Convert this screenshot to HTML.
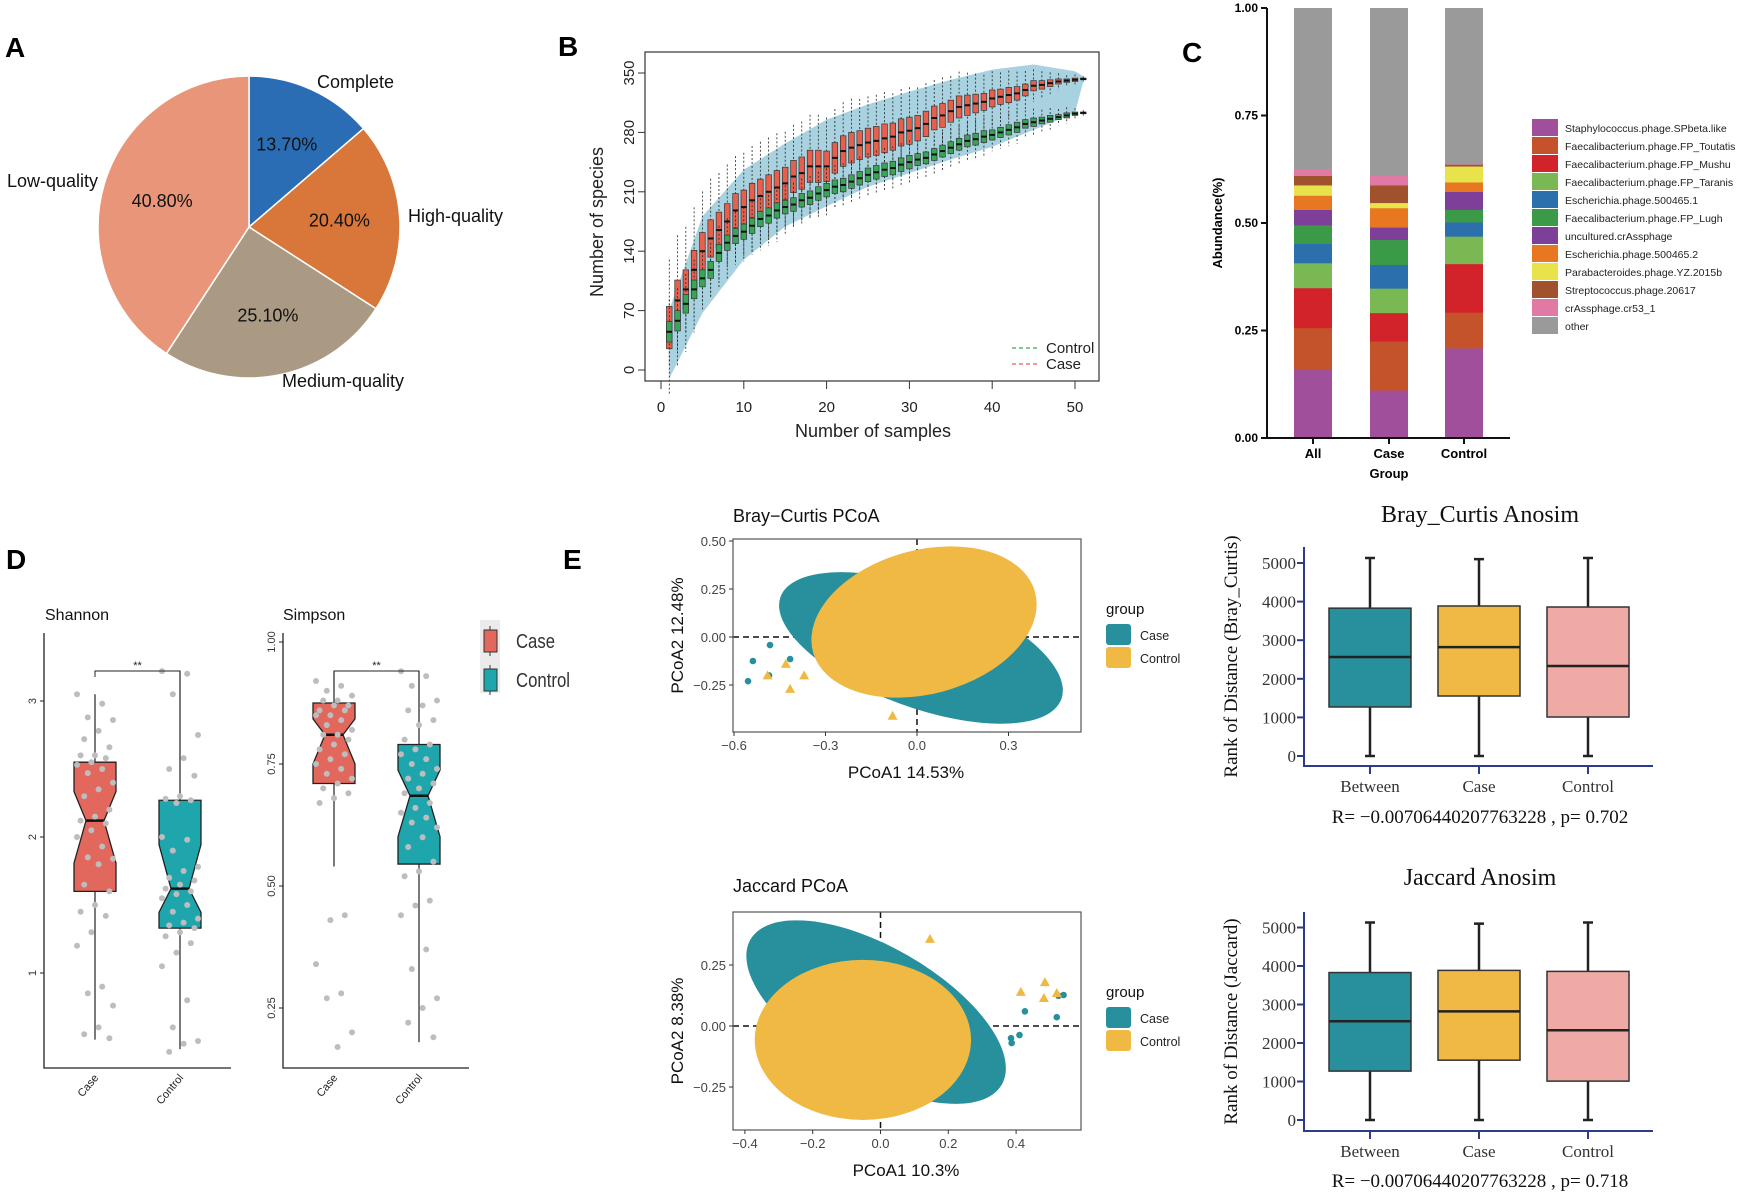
<!DOCTYPE html>
<html><head><meta charset="utf-8"><style>
html,body{margin:0;padding:0;background:#fff;}
svg{display:block;font-family:"Liberation Sans",sans-serif;}
.serif{font-family:"Liberation Serif",serif;}
</style></head><body>
<svg id="fig" xmlns="http://www.w3.org/2000/svg" width="1755" height="1198" viewBox="0 0 1755 1198">
<rect width="1755" height="1198" fill="#fff"/>
<g font-weight="bold" font-size="28">
<text x="5" y="57">A</text>
<text x="558" y="56">B</text>
<text x="1182" y="62">C</text>
<text x="6" y="569">D</text>
<text x="563" y="569">E</text>
</g>
<g id="pie"></g>
<g id="rare"></g>
<g id="stack"></g>
<g id="alpha"></g>
<g id="pcoa"></g>
<g id="anosim"></g>
</svg>
<script>
// ---------- data ----------
const pieLabels=["Complete","High-quality","Medium-quality","Low-quality"];
const pieValues=[13.7,20.4,25.1,40.8];
const pieText=["13.70%","20.40%","25.10%","40.80%"];

const rareSamples=[1,2,3,4,5,6,7,8,9,10,11,12,13,14,15,16,17,18,19,20,21,22,23,24,25,26,27,28,29,30,31,32,33,34,35,36,37,38,39,40,41,42,43,44,45,46,47,48,49,50,51];
const caseMedian=[50,82,95,118,140,155,165,175,188,192,200,205,210,215,220,228,232,240,240,240,250,258,262,265,268,270,273,275,280,282,285,290,297,300,305,310,312,314,316,320,322,324,326,330,335,336,338,340,341,342,343];
const caseHalf=[25,24,23,23,22,22,21,21,20,20,20,20,20,20,19,19,19,19,19,18,18,18,18,17,17,17,17,16,16,16,15,15,14,14,13,13,12,11,10,10,9,9,8,7,6,5,4,3,2,2,1];
const ctrlMedian=[45,58,78,95,108,118,138,150,158,163,170,178,182,188,192,195,200,203,208,212,216,218,222,226,230,233,236,238,242,245,248,250,254,258,262,266,270,272,275,277,280,283,286,290,292,294,296,298,300,302,303];
const ctrlHalf=[12,12,11,11,10,10,10,9,9,9,9,9,9,9,8,8,8,8,8,8,8,8,8,8,8,8,8,8,8,8,7,7,7,7,7,7,7,7,7,6,6,6,6,5,5,4,4,3,3,2,1];
const bandX=[1,5,10,15,20,25,30,35,40,45,50,51];
const bandUpper=[71,181,236,267,295,313,328,342,354,360,352,346];
const bandLower=[-10,67,130,169,193,216,232,248,263,283,303,340];
const rareYTicks=[0,70,140,210,280,350];
const rareXTicks=[0,10,20,30,40,50];

const stackGroups=["All","Case","Control"];
const stackTaxa=["Staphylococcus.phage.SPbeta.like","Faecalibacterium.phage.FP_Toutatis","Faecalibacterium.phage.FP_Mushu","Faecalibacterium.phage.FP_Taranis","Escherichia.phage.500465.1","Faecalibacterium.phage.FP_Lugh","uncultured.crAssphage","Escherichia.phage.500465.2","Parabacteroides.phage.YZ.2015b","Streptococcus.phage.20617","crAssphage.cr53_1","other"];
const stackAll=[0.160,0.096,0.093,0.058,0.045,0.043,0.036,0.033,0.024,0.022,0.016,0.374];
const stackCase=[0.111,0.114,0.066,0.057,0.055,0.058,0.029,0.045,0.012,0.041,0.022,0.390];
const stackControl=[0.209,0.083,0.113,0.064,0.033,0.029,0.042,0.022,0.037,0.004,0.001,0.363];
const stackYTicks=["0.00","0.25","0.50","0.75","1.00"];

const shannonBox={Case:[0.51,1.60,2.12,2.55,3.05],Control:[0.44,1.33,1.62,2.27,3.22]};
const simpsonBox={Case:[0.54,0.71,0.81,0.875,0.94],Control:[0.18,0.545,0.685,0.79,0.94]};
const shannonCasePts=[3.05,2.98,2.88,2.86,2.78,2.72,2.66,2.6,2.6,2.58,2.55,2.53,2.5,2.47,2.4,2.35,2.3,2.2,2.15,2.12,2.1,2.05,2.0,1.93,1.85,1.84,1.8,1.65,1.6,1.5,1.45,1.42,1.3,1.2,0.9,0.85,0.76,0.6,0.55,0.52];
const shannonCtrlPts=[3.22,3.2,3.05,2.75,2.58,2.5,2.45,2.3,2.28,2.27,2.25,2.0,1.98,1.9,1.78,1.75,1.7,1.68,1.65,1.62,1.6,1.58,1.55,1.5,1.45,1.4,1.37,1.35,1.33,1.3,1.27,1.22,1.15,1.05,0.8,0.6,0.5,0.48,0.42];
const simpsonCasePts=[0.92,0.91,0.9,0.89,0.88,0.88,0.87,0.87,0.86,0.86,0.85,0.85,0.84,0.83,0.82,0.81,0.81,0.8,0.79,0.78,0.77,0.76,0.75,0.74,0.73,0.72,0.71,0.7,0.69,0.68,0.67,0.44,0.43,0.34,0.28,0.27,0.2,0.17];
const simpsonCtrlPts=[0.94,0.93,0.91,0.88,0.87,0.86,0.84,0.83,0.8,0.79,0.78,0.77,0.76,0.75,0.74,0.73,0.72,0.71,0.7,0.69,0.67,0.66,0.65,0.64,0.63,0.62,0.6,0.58,0.55,0.53,0.52,0.47,0.46,0.44,0.37,0.33,0.27,0.25,0.22,0.19];

const bcEllCase=[0.013,-0.057,0.49,0.31,20];
const bcEllCtrl=[0.023,0.078,0.377,0.375,-15];
const bcCasePts=[[-0.554,-0.23],[-0.538,-0.125],[-0.482,-0.042],[-0.416,-0.115],[-0.485,-0.2]];
const bcCtrlPts=[[-0.43,-0.14],[-0.49,-0.2],[-0.37,-0.2],[-0.416,-0.27],[-0.08,-0.41]];
const bcXTicks=[-0.6,-0.3,0.0,0.3];
const bcYTicks=[0.5,0.25,0,-0.25];
const jcEllCase=[-0.013,0.057,0.428,0.266,30];
const jcEllCtrl=[-0.052,-0.057,0.319,0.328,0];
const jcCasePts=[[0.426,0.06],[0.52,0.036],[0.41,-0.037],[0.385,-0.05],[0.387,-0.07],[0.54,0.127],[0.525,0.124]];
const jcCtrlPts=[[0.146,0.357],[0.414,0.14],[0.485,0.18],[0.482,0.115],[0.52,0.135]];
const jcXTicks=[-0.4,-0.2,0.0,0.2,0.4];
const jcYTicks=[0.25,0,-0.25];

const anoCats=["Between","Case","Control"];
const bcAnosim=[[0,1270,2565,3830,5130],[0,1554,2820,3886,5100],[0,1010,2330,3860,5130]];
const jcAnosim=[[0,1270,2565,3830,5130],[0,1554,2820,3886,5100],[0,1010,2330,3860,5130]];
const anoYTicks=[0,1000,2000,3000,4000,5000];

// ---------- helpers ----------
const NS="http://www.w3.org/2000/svg";
function mk(tag,attrs,parent){const e=document.createElementNS(NS,tag);for(const k in attrs)e.setAttribute(k,attrs[k]);parent.appendChild(e);return e;}
function txt(s,attrs,parent){const e=mk("text",attrs,parent);e.textContent=s;return e;}

// ---------- A pie ----------
(function(){
const g=document.getElementById("pie");
const cx=249,cy=227,r=151;
const cols=["#2a6db5","#d9763a","#ab9a83","#e8957a"];
const tot=pieValues.reduce((a,b)=>a+b,0);
let a0=0;
const lblPos=[[317,88,"start"],[408,222,"start"],[282,387,"start"],[7,187,"start"]];
pieValues.forEach((v,i)=>{
 const a1=a0+v/tot*2*Math.PI;
 const x0=cx+r*Math.sin(a0),y0=cy-r*Math.cos(a0),x1=cx+r*Math.sin(a1),y1=cy-r*Math.cos(a1);
 const p=mk("path",{d:`M${cx},${cy}L${x0},${y0}A${r},${r} 0 ${a1-a0>Math.PI?1:0} 1 ${x1},${y1}Z`,fill:cols[i],stroke:"#fff","stroke-width":1.5},g);
 
 
 const am=(a0+a1)/2, rr=r*0.6;
 const t=txt(pieText[i],{x:cx+rr*Math.sin(am),y:cy-rr*Math.cos(am)+6,"text-anchor":"middle","font-size":18,fill:"#111"},g);
 
 
 const l=txt(pieLabels[i],{x:lblPos[i][0],y:lblPos[i][1],"font-size":18,fill:"#111"},g);
 
 
 a0=a1;
});
})();

// ---------- B rarefaction ----------
(function(){
const g=document.getElementById("rare");
const X=n=>661+(n)*(1075-661)/50, Y=v=>370-v*(370-73)/350;
const box=mk("rect",{x:645,y:52,width:454,height:329,fill:"none",stroke:"#333","stroke-width":1.2},g);


let d="M"+bandX.map((n,i)=>X(n)+","+Y(bandUpper[i])).join("L");
for(let i=bandX.length-1;i>=0;i--)d+="L"+X(bandX[i])+","+Y(bandLower[i]);
const band=mk("path",{d:d+"Z",fill:"#a8d2e0",stroke:"none"},g);


function series(med,half,fill,name){
 rareSamples.forEach((n,i)=>{
  const x=X(n),w=5.6;
  const hi=Math.min(med[i]+half[i]*3.2,360),lo=med[i]-half[i]*3.2;
  const wk=mk("line",{x1:x,x2:x,y1:Y(hi),y2:Y(lo),stroke:"#222","stroke-width":0.8,"stroke-dasharray":"2,2"},g);
  
  
  const b=mk("rect",{x:x-w/2,y:Y(med[i]+half[i]),width:w,height:Math.max(1,Y(med[i]-half[i])-Y(med[i]+half[i])),fill:fill,stroke:"#333","stroke-width":0.7},g);
  
  
  const m=mk("line",{x1:x-w/2,x2:x+w/2,y1:Y(med[i]),y2:Y(med[i]),stroke:"#111","stroke-width":2},g);
  
  
 });
}
series(caseMedian,caseHalf,"#e8604c","case");
series(ctrlMedian,ctrlHalf,"#3aa655","control");
rareYTicks.forEach(v=>{
 const l=mk("line",{x1:638,x2:645,y1:Y(v),y2:Y(v),stroke:"#333"},g);
 
 
 const t=txt(String(v),{x:0,y:0,transform:`translate(634,${Y(v)}) rotate(-90)`,"text-anchor":"middle","font-size":15,fill:"#222"},g);
 
 
});
rareXTicks.forEach(v=>{
 const l=mk("line",{x1:X(v),x2:X(v),y1:381,y2:389,stroke:"#333"},g);
 
 
 const t=txt(String(v),{x:X(v),y:412,"text-anchor":"middle","font-size":15,fill:"#222"},g);
 
 
});
const xl=txt("Number of samples",{x:873,y:437,"text-anchor":"middle","font-size":18,fill:"#222"},g);


const yl=txt("Number of species",{x:0,y:0,transform:"translate(603,222) rotate(-90)","text-anchor":"middle","font-size":18,fill:"#222"},g);


[["Control","#3aa655",348],["Case","#e8604c",364]].forEach(e=>{
 const l=mk("line",{x1:1012,x2:1037,y1:e[2],y2:e[2],stroke:e[1],"stroke-dasharray":"4,3","stroke-width":1.2},g);
 
 
 const t=txt(e[0],{x:1046,y:e[2]+5,"font-size":15,fill:"#222"},g);
 
 
});
})();

// ---------- C stacked ----------
(function(){
const g=document.getElementById("stack");
const cols=["#a0509a","#c4532c","#d2232a","#79b853","#2b6fad","#3a9a48","#7d3f98","#e87722","#e8e34a","#a0522d","#e07aa5","#9a9a9a"];
const Y=v=>438-v*430, xs=[1313,1389,1464];
[stackAll,stackCase,stackControl].forEach((arr,gi)=>{
 let acc=0;
 arr.forEach((v,i)=>{
  const r=mk("rect",{x:xs[gi]-19,y:Y(acc+v),width:38,height:Y(acc)-Y(acc+v)+0.3,fill:cols[i]},g);
  
  
  acc+=v;
 });
});
const ax=mk("path",{d:"M1267,8V438H1510",fill:"none",stroke:"#111","stroke-width":2},g);


stackYTicks.forEach(s=>{
 const v=parseFloat(s);
 const l=mk("line",{x1:1261,x2:1267,y1:Y(v),y2:Y(v),stroke:"#111","stroke-width":2},g);
 
 
 const t=txt(s,{x:1258,y:Y(v)+4,"text-anchor":"end","font-size":12,"font-weight":"bold"},g);
 
 
});
stackGroups.forEach((s,i)=>{
 const l=mk("line",{x1:xs[i],x2:xs[i],y1:438,y2:444,stroke:"#111","stroke-width":2},g);
 
 
 const t=txt(s,{x:xs[i],y:458,"text-anchor":"middle","font-size":13,"font-weight":"bold"},g);
 
 
});
const gx=txt("Group",{x:1389,y:478,"text-anchor":"middle","font-size":13,"font-weight":"bold"},g);


const gy=txt("Abundance(%)",{x:0,y:0,transform:"translate(1222,223) rotate(-90)","text-anchor":"middle","font-size":13,"font-weight":"bold"},g);


stackTaxa.forEach((s,i)=>{
 const r=mk("rect",{x:1532,y:119+i*18,width:26,height:17,fill:cols[i]},g);
 
 
 const t=txt(s,{x:1565,y:132+i*18,"font-size":10.5,fill:"#222"},g);
 
 
});
})();

// ---------- D alpha ----------
(function(){
const g=document.getElementById("alpha");
function panel(title,tx,axX,axEnd,zeroY,perUnit,ticks,tickFmt,boxes,ptsCase,ptsCtrl,cx){
 const Y=v=>zeroY-v*perUnit;
 const tt=txt(title,{x:tx,y:620,"font-size":16,fill:"#111"},g);
 
 
 const ax=mk("path",{d:`M${axX},633V1068H${axEnd}`,fill:"none",stroke:"#222","stroke-width":1.3},g);
 
 
 ticks.forEach(v=>{
  const l=mk("line",{x1:axX-4,x2:axX,y1:Y(v),y2:Y(v),stroke:"#222"},g);
  
  
  const t=txt(tickFmt(v),{x:0,y:0,transform:`translate(${axX-8},${Y(v)}) rotate(-90)`,"text-anchor":"middle","font-size":11,fill:"#333"},g);
  
  
 });
 const fills={Case:"#e2675c",Control:"#1fa6ad"};
 ["Case","Control"].forEach((k,i)=>{
  const [lo,q1,md,q3,hi]=boxes[k], x=cx[i], w=21, nw=9;
  const wl=mk("line",{x1:x,x2:x,y1:Y(hi),y2:Y(lo),stroke:"#222","stroke-width":1.2},g);
  
  
  const n1=md+(q3-md)*0.5, n2=md-(md-q1)*0.6;
  const p=mk("path",{d:`M${x-w},${Y(q3)}H${x+w}V${Y(n1)}L${x+nw},${Y(md)}L${x+w},${Y(n2)}V${Y(q1)}H${x-w}V${Y(n2)}L${x-nw},${Y(md)}L${x-w},${Y(n1)}Z`,fill:fills[k],stroke:"#222","stroke-width":1.3},g);
  
  
  const m=mk("line",{x1:x-nw,x2:x+nw,y1:Y(md),y2:Y(md),stroke:"#111","stroke-width":2.5},g);
  
  
  const l=txt(k,{x:0,y:0,transform:`translate(${x+4},${1078}) rotate(-50)`,"text-anchor":"end","font-size":11,fill:"#222"},g);
  
  
 });
 [[ptsCase,cx[0]],[ptsCtrl,cx[1]]].forEach(([pts,x])=>{
  pts.forEach((v,i)=>{
   const off=((i*7)%11-5)*3.6;
   const c=mk("circle",{cx:x+off,cy:Y(v),r:3,fill:"#bdbdbd"},g);
   
   
  });
 });
 const br=mk("path",{d:`M${cx[0]},677V671H${cx[1]}V677`,fill:"none",stroke:"#222","stroke-width":1},g);
 
 
 const st=txt("**",{x:(cx[0]+cx[1])/2,y:669,"text-anchor":"middle","font-size":11,fill:"#222"},g);
 
 
}
panel("Shannon",45,44,231,1109,136,[1,2,3],v=>String(v),shannonBox,shannonCasePts,shannonCtrlPts,[95,180]);
panel("Simpson",283,283,469,1130,488,[0.25,0.5,0.75,1.0],v=>v.toFixed(2),simpsonBox,simpsonCasePts,simpsonCtrlPts,[334,419]);
const lb=mk("rect",{x:480,y:620,width:20,height:73,fill:"#ebebeb"},g);


[["Case","#e2675c",630],["Control","#1fa6ad",669]].forEach(e=>{
 const v=mk("line",{x1:490,x2:490,y1:e[2]-4,y2:e[2]+26,stroke:"#333"},g);
 
 
 const r=mk("rect",{x:484,y:e[2],width:13,height:22,fill:e[1],stroke:"#333"},g);
 
 
 const t=txt(e[0],{x:516,y:e[2]+18,"font-size":20,fill:"#333",textLength:e[0]==="Case"?39:54,lengthAdjust:"spacingAndGlyphs"},g);
 
 
});
})();

// ---------- E PCoA ----------
(function(){
const g=document.getElementById("pcoa");
function panel(o){
 const X=v=>o.x0+v*o.xs, Y=v=>o.y0-v*o.ys;
 const tt=txt(o.title,{x:733,y:o.ty,"font-size":18,fill:"#111"},g);
 
 
 const cp="clip"+o.id;
 const cl=mk("clipPath",{id:cp},g);
 mk("rect",{x:733,y:o.top,width:348,height:o.bot-o.top},cl);
 const inner=mk("g",{"clip-path":`url(#${cp})`},g);
 const hl=mk("line",{x1:733,x2:1081,y1:Y(0),y2:Y(0),stroke:"#111","stroke-width":1.5,"stroke-dasharray":"6,4"},inner);
 
 
 const vl=mk("line",{x1:X(0),x2:X(0),y1:o.top,y2:o.bot,stroke:"#111","stroke-width":1.5,"stroke-dasharray":"6,4"},inner);
 
 
 [[o.eCase,"#28909c","case"],[o.eCtrl,"#f0b944","control"]].forEach(([e,c,n])=>{
  const el=mk("ellipse",{cx:X(e[0]),cy:Y(e[1]),rx:e[2]*o.xs,ry:e[3]*o.ys,transform:`rotate(${e[4]} ${X(e[0])} ${Y(e[1])})`,fill:c},inner);
  
  
 });
 o.pCase.forEach(p=>{
  const c=mk("circle",{cx:X(p[0]),cy:Y(p[1]),r:3.3,fill:"#28909c"},inner);
  
  
 });
 o.pCtrl.forEach(p=>{
  const x=X(p[0]),y=Y(p[1]);
  const c=mk("path",{d:`M${x},${y-5}L${x+5},${y+4}L${x-5},${y+4}Z`,fill:"#f0b944"},inner);
  
  
 });
 const fr=mk("rect",{x:733,y:o.top,width:348,height:o.bot-o.top,fill:"none",stroke:"#555","stroke-width":1.2},g);
 
 
 o.xt.forEach(v=>{
  const l=mk("line",{x1:X(v),x2:X(v),y1:o.bot,y2:o.bot+4,stroke:"#333"},g);
  
  
  const t=txt((v<0?"\u2212":"")+Math.abs(v).toFixed(1),{x:X(v),y:o.bot+18,"text-anchor":"middle","font-size":13,fill:"#444"},g);
  
  
 });
 o.yt.forEach(v=>{
  const l=mk("line",{x1:729,x2:733,y1:Y(v),y2:Y(v),stroke:"#333"},g);
  
  
  const t=txt((v<0?"\u2212":"")+Math.abs(v).toFixed(2),{x:726,y:Y(v)+5,"text-anchor":"end","font-size":13,fill:"#444"},g);
  
  
 });
 const xl=txt(o.xl,{x:906,y:o.bot+46,"text-anchor":"middle","font-size":17,fill:"#111"},g);
 
 
 const yl=txt(o.yl,{x:0,y:0,transform:`translate(683,${(o.top+o.bot)/2+ (o.id==="j"?10:0)}) rotate(-90)`,"text-anchor":"middle","font-size":17,fill:"#111"},g);
 
 
 const gt=txt("group",{x:1106,y:o.ly,"font-size":15,fill:"#111"},g);
 
 
 [["Case","#28909c",0],["Control","#f0b944",23]].forEach(e=>{
  const r=mk("rect",{x:1106,y:o.ly+10+e[2],width:25,height:21,rx:3,fill:e[1]},g);
  
  
  const t=txt(e[0],{x:1140,y:o.ly+26+e[2],"font-size":12.5,fill:"#222"},g);
  
  
 });
}
panel({id:"b",title:"Bray\u2212Curtis PCoA",ty:522,top:539,bot:732,x0:917,xs:305,y0:637,ys:192,eCase:bcEllCase,eCtrl:bcEllCtrl,pCase:bcCasePts,pCtrl:bcCtrlPts,xt:bcXTicks,yt:bcYTicks,xl:"PCoA1 14.53%",yl:"PCoA2 12.48%",ly:614});
panel({id:"j",title:"Jaccard PCoA",ty:892,top:912,bot:1130,x0:880.5,xs:339,y0:1026,ys:244,eCase:jcEllCase,eCtrl:jcEllCtrl,pCase:jcCasePts,pCtrl:jcCtrlPts,xt:jcXTicks,yt:jcYTicks,xl:"PCoA1 10.3%",yl:"PCoA2 8.38%",ly:997});
})();

// ---------- E Anosim ----------
(function(){
const g=document.getElementById("anosim");
function panel(o){
 const Y=v=>o.y0-v*o.per/1000, xs=[1370,1479,1588], cols=["#28909c","#f0b944","#efaaa6"];
 const tt=txt(o.title,{x:1480,y:o.ty,"text-anchor":"middle","font-size":24,fill:"#111","class":"serif"},g);
 
 
 o.vals.forEach((b,i)=>{
  const [lo,q1,md,q3,hi]=b,x=xs[i];
  const w=mk("line",{x1:x,x2:x,y1:Y(hi),y2:Y(lo),stroke:"#222","stroke-width":2.5},g);
  
  
  [hi,lo].forEach(v=>{
   const c=mk("line",{x1:x-5,x2:x+5,y1:Y(v),y2:Y(v),stroke:"#222","stroke-width":2.5},g);
   
   
  });
  const r=mk("rect",{x:x-41,y:Y(q3),width:82,height:Y(q1)-Y(q3),fill:cols[i],stroke:"#333","stroke-width":1.5},g);
  
  
  const m=mk("line",{x1:x-41,x2:x+41,y1:Y(md),y2:Y(md),stroke:"#222","stroke-width":2.5},g);
  
  
  const tk=mk("line",{x1:x,x2:x,y1:o.ax,y2:o.ax+8,stroke:"#2e3a8c","stroke-width":2},g);
  
  
  const t=txt(anoCats[i],{x:x,y:o.xly,"text-anchor":"middle","font-size":17,fill:"#333","class":"serif"},g);
  
  
 });
 const ax=mk("path",{d:`M1304,${o.top}V${o.ax}H1653`,fill:"none",stroke:"#2e3a8c","stroke-width":2},g);
 
 
 anoYTicks.forEach(v=>{
  const l=mk("line",{x1:1297,x2:1304,y1:Y(v),y2:Y(v),stroke:"#2e3a8c","stroke-width":2},g);
  
  
  const t=txt(String(v),{x:1296,y:Y(v)+6,"text-anchor":"end","font-size":17,fill:"#333","class":"serif"},g);
  
  
 });
 const yl=txt(o.yl,{x:0,y:0,transform:`translate(1237,${(o.top+o.ax)/2}) rotate(-90)`,"text-anchor":"middle","font-size":19,fill:"#111","class":"serif"},g);
 
 
 const rt=txt(o.stat,{x:1480,y:o.ry,"text-anchor":"middle","font-size":19,fill:"#111","class":"serif"},g);
 
 
}
panel({title:"Bray_Curtis Anosim",ty:522,top:547,ax:766,y0:756,per:38.6,vals:bcAnosim,xly:792,ry:823,yl:"Rank of Distance (Bray_Curtis)",stat:"R= \u22120.00706440207763228 ,  p= 0.702"});
panel({title:"Jaccard Anosim",ty:885,top:912,ax:1131,y0:1120,per:38.5,vals:jcAnosim,xly:1157,ry:1187,yl:"Rank of Distance (Jaccard)",stat:"R= \u22120.00706440207763228 ,  p= 0.718"});
})();
</script>
</body></html>
